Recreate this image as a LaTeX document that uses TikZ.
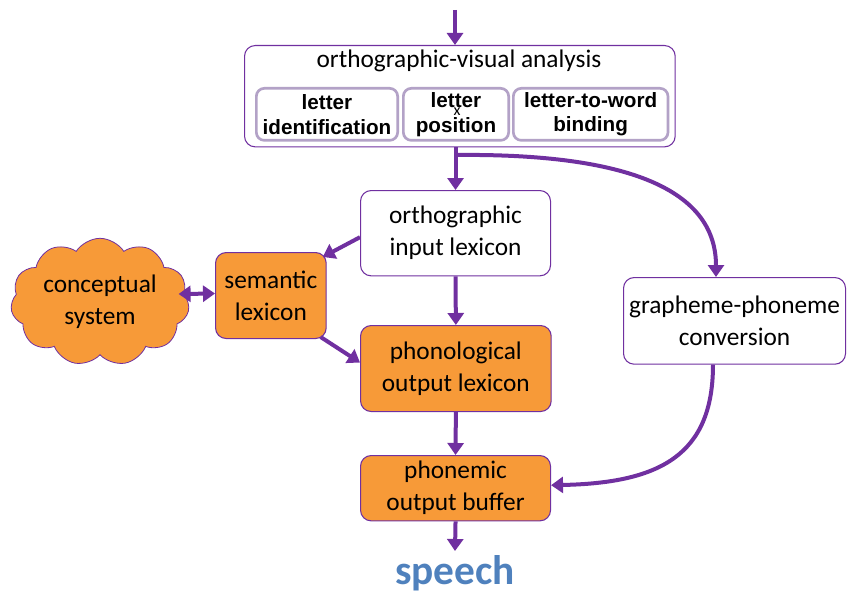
\documentclass[tikz,border=0pt]{standalone}
\usepackage{fontspec}
\setmainfont{Carlito}
\newfontfamily\arialbold{Liberation Sans}[UprightFont=* Bold]
\usetikzlibrary{arrows.meta,shapes.symbols,calc}
\definecolor{vio}{HTML}{7030A0}
\definecolor{lilac}{HTML}{B3A2C7}
\definecolor{orng}{HTML}{F79A38}
\definecolor{spblue}{HTML}{4F81BD}
\tikzset{
  txt/.style={font=\fontsize{19}{24}\selectfont},
  box/.style={draw=vio, line width=0.8pt, rounded corners=8pt, align=center,
    txt, inner sep=0pt},
  whitebox/.style={box, fill=white},
  orangebox/.style={box, fill=orng},
  subbox/.style={draw=lilac, line width=2pt, rounded corners=6pt, align=center,
    font=\arialbold\fontsize{15.5}{18.5}\selectfont, inner sep=0pt},
  flow/.style={draw=vio, line width=3pt, -{Triangle[width=12pt,length=9pt]}},
  dflow/.style={draw=vio, line width=3pt, {Triangle[width=12pt,length=9pt]}-{Triangle[width=12pt,length=9pt]}},
}
\begin{document}
\begin{tikzpicture}[x=0.75pt,y=-0.75pt]
\useasboundingbox (0,0) rectangle (847,592);

% orthographic-visual analysis with its three sub-processes
\node[whitebox, minimum width=323pt, minimum height=76pt, anchor=north west] (ova) at (244,45) {};
\node[txt, inner sep=0pt] (ovat) at (459,61) {orthographic-visual analysis};
\node[subbox, minimum width=106pt, minimum height=39pt, anchor=north west] (lid) at (255,87) {letter\\identification};
\node[subbox, minimum width=79pt, minimum height=39pt, anchor=north west] (lpos) at (402,87) {letter\\position};
\node[subbox, minimum width=116pt, minimum height=39pt, anchor=north west] (lwb) at (512,87) {letter-to-word\\binding};
\node[font=\fontsize{12}{12}\selectfont, inner sep=0pt] (xmark) at (457,112) {x};

% lexical route
\node[whitebox, minimum width=142.5pt, minimum height=64pt, anchor=north west] (oil) at (360,190) {orthographic\\input lexicon};
\node[orangebox, minimum width=83pt, minimum height=64.5pt, anchor=north west] (sem) at (215,252) {semantic\\lexicon};
\node[cloud, cloud puffs=11, cloud puff arc=115, aspect=1.5, draw=vio, line width=0.6pt, fill=orng,
  minimum width=134pt, minimum height=88pt, align=center, inner sep=0pt,
  txt] (cs) at (100,302) {conceptual\\system};
\node[orangebox, minimum width=143pt, minimum height=64.5pt, anchor=north west] (pol) at (360,325) {phonological\\output lexicon};
\node[orangebox, minimum width=142.5pt, minimum height=49pt, anchor=north west] (pob) at (360,455) {phonemic\\output buffer};
\node[font=\bfseries\fontsize{31}{32}\selectfont, text=spblue, inner sep=0pt] (sp) at (455,573) {speech};

% sub-lexical route
\node[whitebox, minimum width=166.5pt, minimum height=65pt, anchor=north west] (gpc) at (623,277) {grapheme-phoneme\\conversion};

% connectors
\coordinate (in) at (455,10);
\coordinate (split) at (455,155);
\draw[flow] (in) -- (ova.north -| in);
\draw[flow] (ova.south -| oil.north) -- (oil.north);
\draw[flow] (split) .. controls (640,153) and (716,195) .. (gpc.north -| 716,0);
\draw[flow] ($(oil.west)+(0,4)$) -- ($(sem.north east)+(-4,5)$);
\draw[dflow] ($(cs.east)+(-10,-8)$) -- ($(sem.west)+(0,-2)$);
\draw[flow] ($(sem.south east)+(-6,-2)$) -- ($(pol.west)+(0,-6)$);
\draw[flow] (oil.south) -- (pol.north);
\draw[flow] (pol.south) -- (pob.north);
\draw[flow] (gpc.south -| 713,0) .. controls (713,455) and (660,483) .. ($(pob.east)+(0,-3)$);
\draw[flow] (pob.south) -- ($(sp.north)+(0,-4)$);
\end{tikzpicture}
\end{document}
